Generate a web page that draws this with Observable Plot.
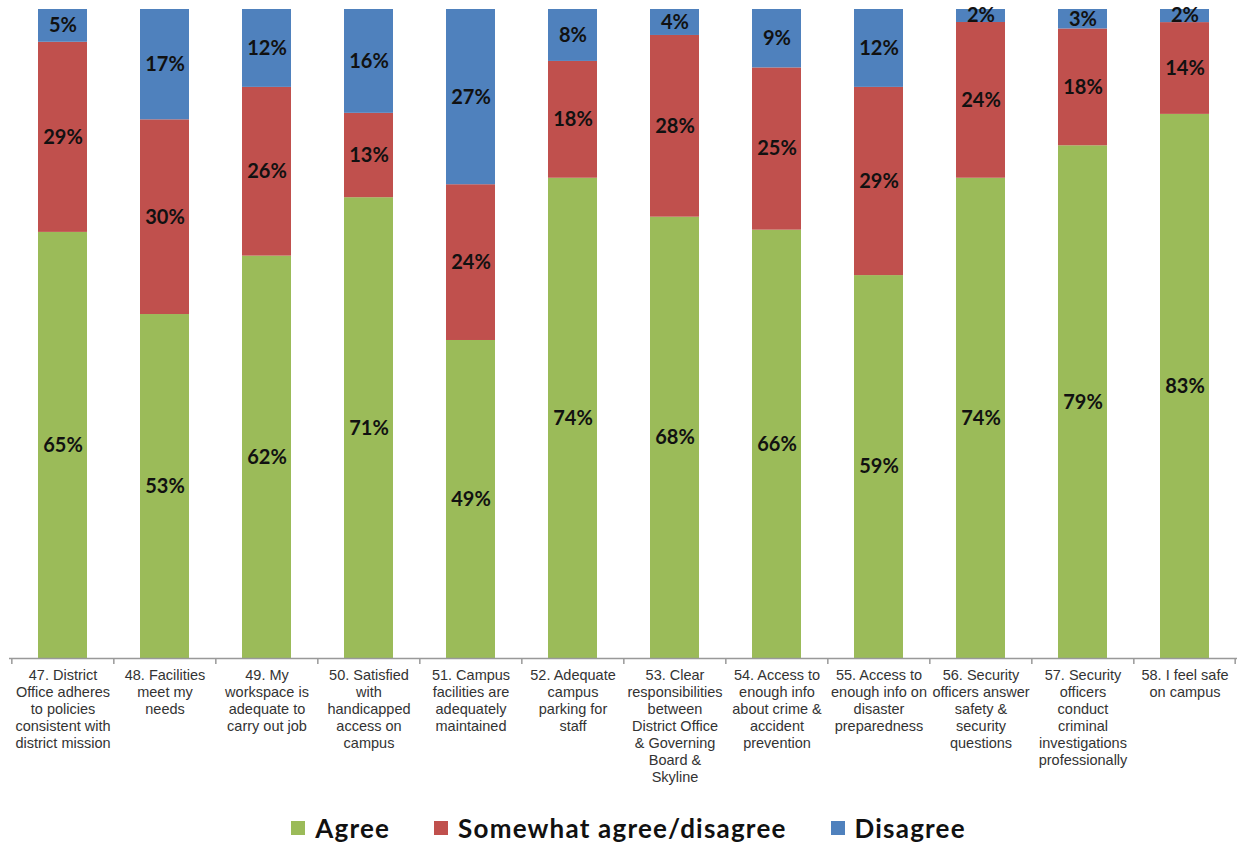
<!DOCTYPE html>
<html>
<head>
<meta charset="utf-8">
<script src="https://cdn.jsdelivr.net/npm/d3@7"></script>
<script src="https://cdn.jsdelivr.net/npm/@observablehq/plot@0.6"></script>
<style>
  html, body { margin: 0; padding: 0; background: #fff; }
  #chart { width: 1237px; }
  .legend { display: flex; justify-content: center; align-items: center; height: 43px; padding-top: 6px; font-family: Lato, "Open Sans", sans-serif; font-weight: bold; font-size: 26px; letter-spacing: 1.2px; color: #111; margin-left: 20px; }
  .legend .item { display: flex; align-items: center; margin: 0 22px; }
  .legend .sw { width: 14px; height: 14px; margin-right: 10px; }
</style>
</head>
<body>
<div id="chart"></div>
<script>
const categories = ["47","48","49","50","51","52","53","54","55","56","57","58"];
const categoryLabels = [
  "47. District\nOffice adheres\nto policies\nconsistent with\ndistrict mission",
  "48. Facilities\nmeet my\nneeds",
  "49. My\nworkspace is\nadequate to\ncarry out job",
  "50. Satisfied\nwith\nhandicapped\naccess on\ncampus",
  "51. Campus\nfacilities are\nadequately\nmaintained",
  "52. Adequate\ncampus\nparking for\nstaff",
  "53. Clear\nresponsibilities\nbetween\nDistrict Office\n& Governing\nBoard &\nSkyline",
  "54. Access to\nenough info\nabout crime &\naccident\nprevention",
  "55. Access to\nenough info on\ndisaster\npreparedness",
  "56. Security\nofficers answer\nsafety &\nsecurity\nquestions",
  "57. Security\nofficers\nconduct\ncriminal\ninvestigations\nprofessionally",
  "58. I feel safe\non campus"
];
const seriesNames = ["Agree", "Somewhat agree/disagree", "Disagree"];
const agree    = [65, 53, 62, 71, 49, 74, 68, 66, 59, 74, 79, 83];
const somewhat = [29, 30, 26, 13, 24, 18, 28, 25, 29, 24, 18, 14];
const disagree = [5, 17, 12, 16, 27, 8, 4, 9, 12, 2, 3, 2];
const seriesColors = ["#9BBB59", "#C0504D", "#4F81BD"];

const seriesValues = [agree, somewhat, disagree];
const data = [];
seriesNames.forEach((s, si) => {
  categories.forEach((c, ci) => {
    data.push({cat: c, series: s, value: seriesValues[si][ci]});
  });
});
const labelOf = new Map(categories.map((c, i) => [c, categoryLabels[i]]));

const width = 1237, marginLeft = 9, marginRight = 0;
const step = (width - marginLeft - marginRight) / categories.length;

const stackOpts = {x: "cat", y: "value", z: "series", offset: "normalize", order: null};

const plot = Plot.plot({
  width,
  height: 800,
  marginTop: 9,
  marginBottom: 142,
  marginLeft,
  marginRight,
  style: {fontFamily: "'Liberation Sans', Arial, sans-serif", background: "#fff"},
  x: {domain: categories, paddingInner: 0.52, paddingOuter: 0.26, align: 0.5},
  y: {domain: [0, 1], axis: null},
  color: {domain: seriesNames, range: seriesColors},
  marks: [
    Plot.barY(data, Plot.stackY({...stackOpts, fill: "series"})),
    Plot.text(data, Plot.stackY({...stackOpts, text: d => d.value + "%", fill: "#111",
      fontSize: 20, fontWeight: "bold", fontFamily: "Lato, 'Open Sans', sans-serif"})),
    Plot.ruleY([0], {stroke: "#999", strokeWidth: 1.5}),
    Plot.ruleX(categories, {x: d => d, y1: 0, y2: 0, dx: -step / 2, insetBottom: -6, stroke: "#999", strokeWidth: 1.5}),
    Plot.ruleX(categories.slice(-1), {x: d => d, y1: 0, y2: 0, dx: step / 2 - 1, insetBottom: -6, stroke: "#999", strokeWidth: 1.5}),
    Plot.axisX({tickSize: 0, tickPadding: 9, fontSize: 14.5, lineHeight: 1.18, fill: "#333",
      tickFormat: d => labelOf.get(d), textOverflow: null, label: null})
  ]
});
document.getElementById("chart").appendChild(plot);

const legend = document.createElement("div");
legend.className = "legend";
seriesNames.forEach((s, i) => {
  const item = document.createElement("div");
  item.className = "item";
  const sw = document.createElement("span");
  sw.className = "sw";
  sw.style.background = seriesColors[i];
  const t = document.createElement("span");
  t.textContent = s;
  item.appendChild(sw);
  item.appendChild(t);
  legend.appendChild(item);
});
document.getElementById("chart").appendChild(legend);
</script>
</body>
</html>
